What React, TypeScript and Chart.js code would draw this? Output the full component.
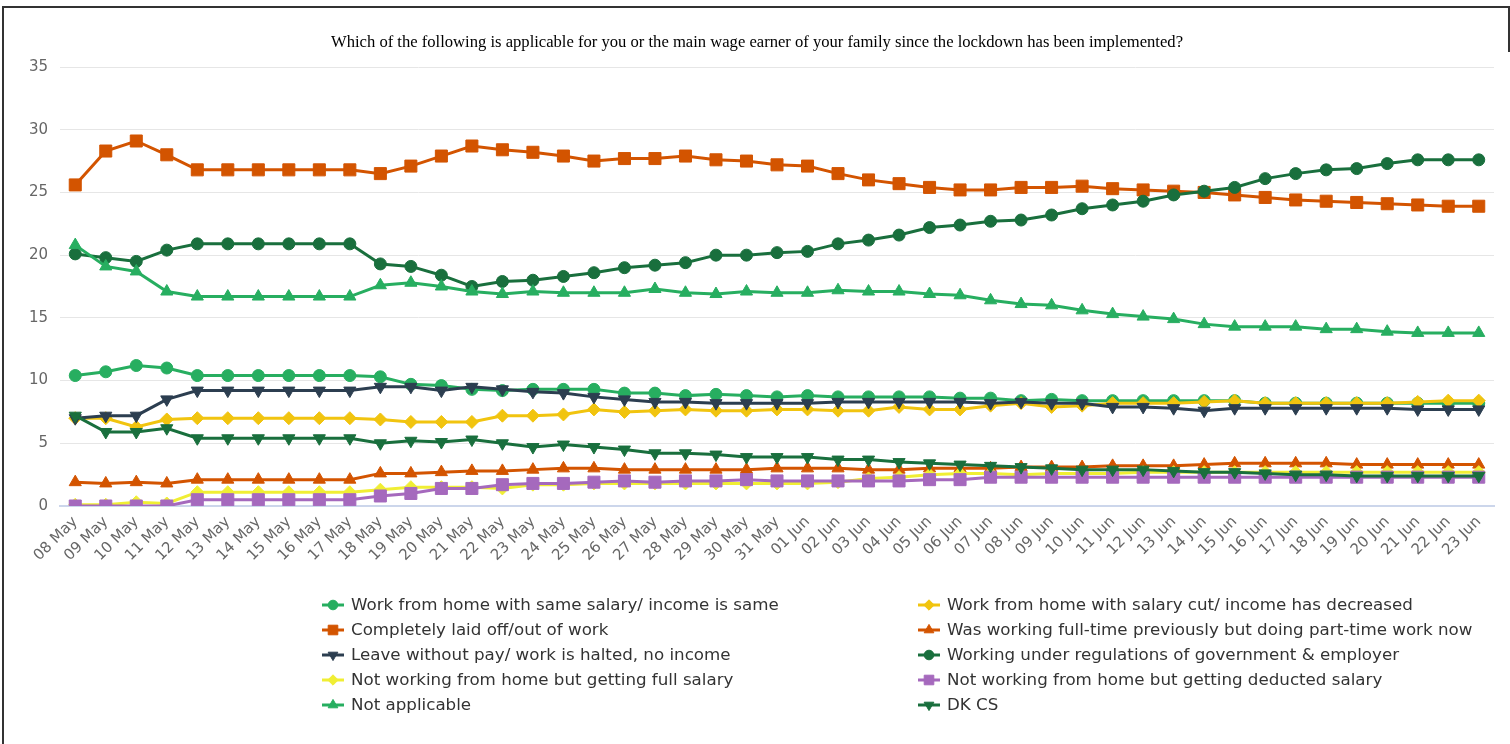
import React, { useEffect, useRef } from "react";
import { Chart, registerables } from "chart.js";
import { drawPoint } from "chart.js/helpers";

Chart.register(...registerables);

const TITLE = "Which of the following is applicable for you or the main wage earner of your family since the lockdown has been implemented?";

const mayDays = ["08","09","10","11","12","13","14","15","16","17","18","19","20","21","22","23","24","25","26","27","28","29","30","31"];
const junDays = ["01","02","03","04","05","06","07","08","09","10","11","12","13","14","15","16","17","18","19","20","21","22","23"];
const labels = [...mayDays.map((d) => d + " May"), ...junDays.map((d) => d + " Jun")];

const yTicks = [0, 5, 10, 15, 20, 25, 30, 35];

const sameSalary = [10.4,10.7,11.2,11.0,10.4,10.4,10.4,10.4,10.4,10.4,10.3,9.7,9.6,9.3,9.2,9.3,9.3,9.3,9.0,9.0,8.8,8.9,8.8,8.7,
  8.8,8.7,8.7,8.7,8.7,8.6,8.6,8.4,8.5,8.4,8.4,8.4,8.4,8.4,8.4,8.2,8.2,8.2,8.2,8.2,8.2,8.2,8.2];
const salaryCut = [7.0,7.0,6.3,6.9,7.0,7.0,7.0,7.0,7.0,7.0,6.9,6.7,6.7,6.7,7.2,7.2,7.3,7.7,7.5,7.6,7.7,7.6,7.6,7.7,
  7.7,7.6,7.6,7.9,7.7,7.7,8.0,8.2,7.9,8.0,8.2,8.2,8.2,8.3,8.4,8.2,8.2,8.2,8.2,8.2,8.3,8.4,8.4];
const laidOff = [25.6,28.3,29.1,28.0,26.8,26.8,26.8,26.8,26.8,26.8,26.5,27.1,27.9,28.7,28.4,28.2,27.9,27.5,27.7,27.7,27.9,27.6,27.5,27.2,
  27.1,26.5,26.0,25.7,25.4,25.2,25.2,25.4,25.4,25.5,25.3,25.2,25.1,25.0,24.8,24.6,24.4,24.3,24.2,24.1,24.0,23.9,23.9];
const partTime = [1.9,1.8,1.9,1.8,2.1,2.1,2.1,2.1,2.1,2.1,2.6,2.6,2.7,2.8,2.8,2.9,3.0,3.0,2.9,2.9,2.9,2.9,2.9,3.0,
  3.0,3.0,2.9,2.9,3.0,3.0,3.0,3.1,3.1,3.1,3.2,3.2,3.2,3.3,3.4,3.4,3.4,3.4,3.3,3.3,3.3,3.3,3.3];
const leaveNoPay = [7.0,7.2,7.2,8.5,9.2,9.2,9.2,9.2,9.2,9.2,9.5,9.5,9.2,9.5,9.3,9.1,9.0,8.7,8.5,8.3,8.3,8.2,8.2,8.2,
  8.2,8.3,8.3,8.3,8.3,8.3,8.2,8.3,8.2,8.2,7.9,7.9,7.8,7.6,7.8,7.8,7.8,7.8,7.8,7.8,7.7,7.7,7.7];
const regulations = [20.1,19.8,19.5,20.4,20.9,20.9,20.9,20.9,20.9,20.9,19.3,19.1,18.4,17.5,17.9,18.0,18.3,18.6,19.0,19.2,19.4,20.0,20.0,20.2,
  20.3,20.9,21.2,21.6,22.2,22.4,22.7,22.8,23.2,23.7,24.0,24.3,24.8,25.1,25.4,26.1,26.5,26.8,26.9,27.3,27.6,27.6,27.6];
const fullSalary = [0.1,0.1,0.3,0.2,1.1,1.1,1.1,1.1,1.1,1.1,1.3,1.5,1.5,1.5,1.4,1.7,1.7,1.8,1.8,1.8,1.8,1.8,1.8,1.8,
  1.8,1.9,2.2,2.3,2.5,2.6,2.6,2.5,2.6,2.6,2.6,2.7,2.7,2.7,2.7,2.7,2.7,2.7,2.7,2.7,2.7,2.7,2.7];
const deducted = [0,0,0,0,0.5,0.5,0.5,0.5,0.5,0.5,0.8,1.0,1.4,1.4,1.7,1.8,1.8,1.9,2.0,1.9,2.0,2.0,2.1,2.0,
  2.0,2.0,2.0,2.0,2.1,2.1,2.3,2.3,2.3,2.3,2.3,2.3,2.3,2.3,2.3,2.3,2.3,2.3,2.3,2.3,2.3,2.3,2.3];
const notApplicable = [20.8,19.1,18.7,17.1,16.7,16.7,16.7,16.7,16.7,16.7,17.6,17.8,17.5,17.1,16.9,17.1,17.0,17.0,17.0,17.3,17.0,16.9,17.1,17.0,
  17.0,17.2,17.1,17.1,16.9,16.8,16.4,16.1,16.0,15.6,15.3,15.1,14.9,14.5,14.3,14.3,14.3,14.1,14.1,13.9,13.8,13.8,13.8];
const dkcs = [7.2,5.9,5.9,6.2,5.4,5.4,5.4,5.4,5.4,5.4,5.0,5.2,5.1,5.3,5.0,4.7,4.9,4.7,4.5,4.2,4.2,4.1,3.9,3.9,
  3.9,3.7,3.7,3.5,3.4,3.3,3.2,3.1,3.0,2.9,2.9,2.9,2.8,2.7,2.7,2.6,2.5,2.5,2.4,2.4,2.4,2.4,2.4];

type S = { label: string; data: number[]; color: string; style: string; rot: number; r: number };

const series: S[] = [
  { label: "Work from home with same salary/ income is same", data: sameSalary, color: "#27ae60", style: "circle", rot: 0, r: 6 },
  { label: "Work from home with salary cut/ income has decreased", data: salaryCut, color: "#f1c40f", style: "rectRot", rot: 0, r: 6.5 },
  { label: "Completely laid off/out of work", data: laidOff, color: "#d35400", style: "rect", rot: 0, r: 8.5 },
  { label: "Was working full-time previously but doing part-time work now", data: partTime, color: "#d35400", style: "triangle", rot: 0, r: 7 },
  { label: "Leave without pay/ work is halted, no income", data: leaveNoPay, color: "#2c3e50", style: "triangle", rot: 180, r: 7 },
  { label: "Working under regulations of government & employer", data: regulations, color: "#196f3d", style: "circle", rot: 0, r: 6 },
  { label: "Not working from home but getting full salary", data: fullSalary, color: "#f0ee34", style: "rectRot", rot: 0, r: 6.5 },
  { label: "Not working from home but getting deducted salary", data: deducted, color: "#a569bd", style: "rect", rot: 0, r: 8.5 },
  { label: "Not applicable", data: notApplicable, color: "#27ae60", style: "triangle", rot: 0, r: 7 },
  { label: "DK CS", data: dkcs, color: "#196f3d", style: "triangle", rot: 180, r: 7 },
];

const customDraw = {
  id: "customDraw",
  afterDraw(chart: any) {
    const ctx = chart.ctx as CanvasRenderingContext2D;
    ctx.save();
    // title
    ctx.fillStyle = "#000";
    ctx.font = "16.6px 'Liberation Serif', serif";
    ctx.textAlign = "center";
    ctx.textBaseline = "middle";
    ctx.fillText(TITLE, 749, 35);
    // legend
    ctx.font = "16.7px 'DejaVu Sans', sans-serif";
    ctx.textAlign = "left";
    const colX = [325, 921];
    series.forEach((s, i) => {
      const col = i % 2;
      const row = Math.floor(i / 2);
      const cx = colX[col];
      const cy = 597 + row * 25;
      ctx.strokeStyle = s.color;
      ctx.lineWidth = 3;
      ctx.beginPath();
      ctx.moveTo(cx - 11, cy);
      ctx.lineTo(cx + 11, cy);
      ctx.stroke();
      ctx.fillStyle = s.color;
      ctx.lineWidth = 1;
      drawPoint(ctx, { pointStyle: s.style as any, radius: s.r * 0.8, rotation: s.rot, borderWidth: 1 }, cx, cy);
      ctx.fillStyle = "#333";
      ctx.fillText(s.label, cx + 18, cy + 1);
    });
    ctx.restore();
  },
};

export default function App() {
  const ref = useRef<HTMLCanvasElement | null>(null);
  useEffect(() => {
    if (!ref.current) return;
    const chart = new Chart(ref.current, {
      type: "line",
      data: {
        labels,
        datasets: series.map((s, i) => ({
          label: s.label,
          data: s.data,
          borderColor: s.color,
          backgroundColor: s.color,
          pointBackgroundColor: s.color,
          pointBorderColor: s.color,
          borderWidth: 3,
          pointStyle: s.style as any,
          pointRotation: s.rot,
          pointRadius: s.r,
          pointBorderWidth: 1,
          tension: 0,
          fill: false,
          order: series.length - i,
        })),
      },
      options: {
        responsive: false,
        animation: false,
        events: [],
        layout: { padding: { left: 0, right: 14, top: 59, bottom: 158 } },
        plugins: { legend: { display: false }, title: { display: false }, tooltip: { enabled: false } },
        scales: {
          x: {
            type: "category",
            offset: true,
            grid: { display: false, drawTicks: false },
            border: { display: true, color: "#ccd6eb", width: 2 },
            ticks: {
              autoSkip: false,
              maxRotation: 45,
              minRotation: 45,
              color: "#666",
              padding: 7,
              font: { family: "'DejaVu Sans', sans-serif", size: 15 },
            },
            afterFit: (scale: any) => { scale.height = 80; },
          },
          y: {
            min: 0,
            max: 35,
            afterBuildTicks: (scale: any) => { scale.ticks = yTicks.map((v) => ({ value: v })); },
            grid: { color: "#e6e6e6", lineWidth: 1, drawTicks: false },
            border: { display: false },
            ticks: {
              color: "#666",
              padding: 12,
              font: { family: "'DejaVu Sans', sans-serif", size: 15 },
            },
            afterFit: (scale: any) => { scale.width = 52; },
          },
        },
      },
      plugins: [customDraw],
    });
    return () => chart.destroy();
  }, []);

  return (
    <div style={{ position: "absolute", left: 0, top: 0, width: 1510, height: 744, overflow: "hidden", background: "#fff" }}>
      <div style={{ position: "absolute", left: 2, top: 6, width: 1520, height: 760, borderLeft: "2px solid #333", borderTop: "2px solid #333" }} />
      <div style={{ position: "absolute", left: 1508, top: 6, width: 2, height: 46, background: "#333" }} />
      <canvas ref={ref} width={1500} height={736} style={{ position: "absolute", left: 8, top: 8, width: 1500, height: 736 }} />
    </div>
  );
}
